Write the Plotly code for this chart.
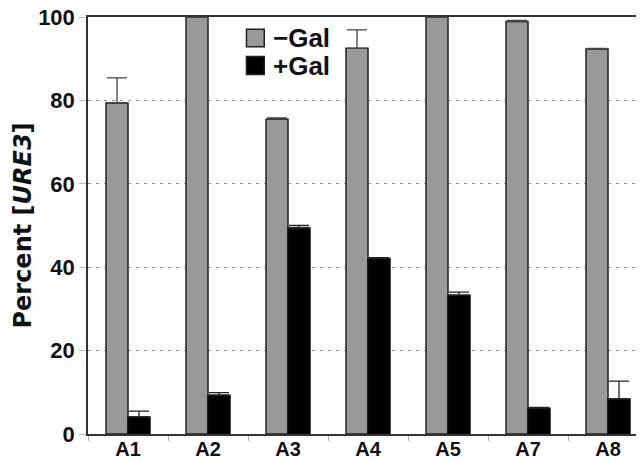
import plotly.graph_objects as go

categories = ["A1", "A2", "A3", "A4", "A5", "A7", "A8"]
minus_gal = [79.4, 100, 75.5, 92.5, 100, 98.9, 92.3]
minus_gal_err = [6.0, 0, 0.3, 4.4, 0, 0.3, 0.2]
plus_gal = [4.1, 9.3, 49.4, 42.1, 33.3, 6.2, 8.4]
plus_gal_err = [1.4, 0.6, 0.6, 0.2, 0.7, 0.2, 4.3]
y_ticks = [0, 20, 40, 60, 80, 100]
series_names = ["\u2212Gal", "+Gal"]
series_colors = ["#999999", "#000000"]

FONT = "Liberation Sans, Arial, sans-serif"
TFONT = "DejaVu Sans, sans-serif"

fig = go.Figure()
fig.add_trace(go.Bar(
    x=categories, y=minus_gal, name=series_names[0],
    marker=dict(color=series_colors[0], line=dict(color="#222222", width=1.5)),
    error_y=dict(type="data", symmetric=False, array=minus_gal_err,
                 arrayminus=[0] * len(minus_gal_err), color="#444444",
                 thickness=1.3, width=10),
))
fig.add_trace(go.Bar(
    x=categories, y=plus_gal, name=series_names[1],
    marker=dict(color=series_colors[1], line=dict(color="#111111", width=1.5)),
    error_y=dict(type="data", symmetric=False, array=plus_gal_err,
                 arrayminus=[0] * len(plus_gal_err), color="#222222",
                 thickness=1.3, width=10),
))

# Legend drawn as key squares + text (inside plot, upper middle)
key_rows = [(0.9705, 0.9285), (0.905, 0.862)]
for name, color, (ytop, ybot) in zip(series_names, series_colors, key_rows):
    fig.add_shape(type="rect", xref="paper", yref="paper",
                  x0=0.285, x1=0.317, y0=ybot, y1=ytop,
                  fillcolor=color, line=dict(color="#222222", width=1.5))
    fig.add_annotation(xref="paper", yref="paper", x=0.329, y=(ytop + ybot) / 2,
                       xanchor="left", yanchor="middle", showarrow=False,
                       text=name,
                       font=dict(family=FONT, size=26, color="#111111", weight="bold"))

# page body has an 8px default margin, so the figure is 8px smaller than the window
fig.update_layout(
    width=636, height=453,
    margin=dict(l=80, r=0, t=9, b=27),
    paper_bgcolor="white", plot_bgcolor="white",
    barmode="group", bargap=0.45, bargroupgap=0,
    font=dict(family=FONT, size=20, color="#111111", weight="bold"),
    showlegend=False,
    xaxis=dict(
        range=[-0.5, 6.45], automargin=False, ticklabeloverflow="allow",
        showline=True, linecolor="#333333", linewidth=1.5, mirror=True,
        ticks="outside", tickson="boundaries", ticklen=5, tickcolor="#aaaaaa",
        ticklabelstandoff=-4,
        showgrid=False,
        tickfont=dict(family=FONT, size=20, color="#111111", weight="bold"),
    ),
    yaxis=dict(
        range=[0, 100], tickvals=y_ticks, automargin=False, ticklabeloverflow="allow",
        showline=True, linecolor="#333333", linewidth=1.5, mirror=False,
        showgrid=True, gridcolor="#999999", griddash="3px,5px", gridwidth=1,
        zeroline=False, ticks="outside", ticklen=7, tickcolor="#bbbbbb",
        tickfont=dict(family=FONT, size=22, color="#111111", weight="bold"),
        title=dict(text="Percent [<i>URE3</i>]", standoff=0,
                   font=dict(family=TFONT, size=24, color="#111111", weight="bold")),
    ),
)

fig.write_html("out.html")
